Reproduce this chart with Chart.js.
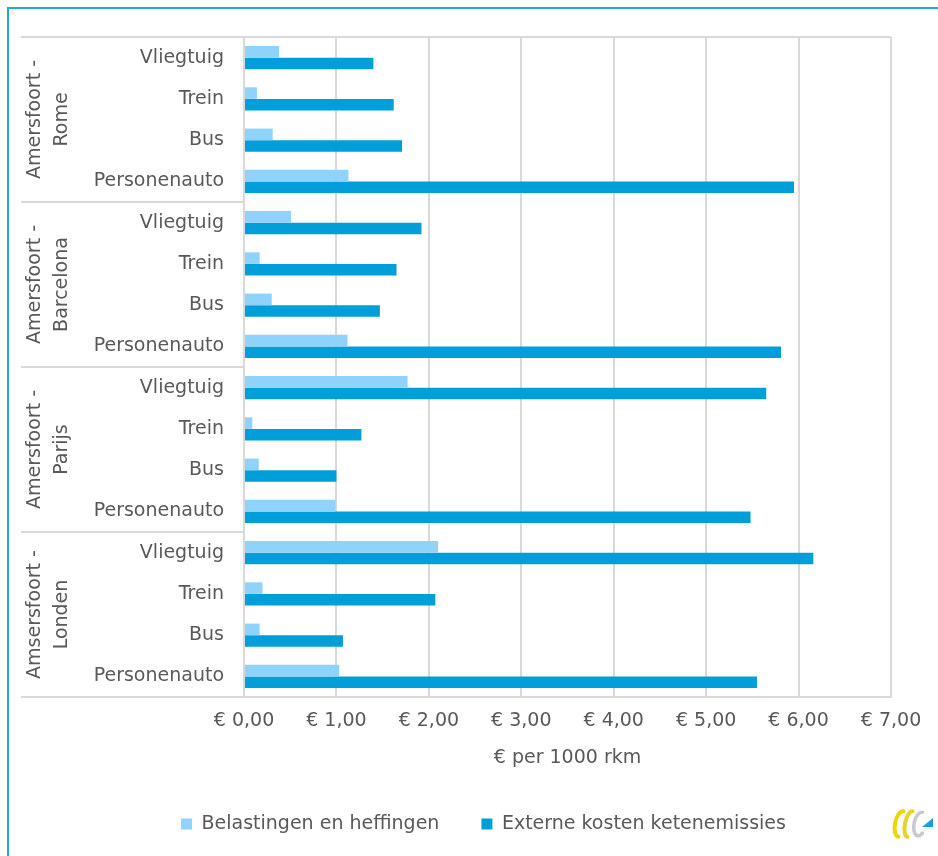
<!DOCTYPE html>
<html lang="nl">
<head>
    <meta charset="UTF-8">
    <title>Kosten per 1000 rkm</title>
    <script src="https://cdn.jsdelivr.net/npm/chart.js"></script>
    <style>
        body { margin: 0; background: #fff; }
        .wrap { position: relative; width: 938px; height: 856px; }
        .frame {
            position: absolute; left: 7px; top: 7px; right: 0; bottom: 0;
            border-top: 2px solid #2aa6df; border-left: 2px solid #2aa6df;
        }
        canvas { position: absolute; left: 0; top: 0; }
    </style>
</head>
<body>
<div class="wrap">
    <div class="frame"></div>
    <canvas id="chart" width="938" height="856"></canvas>
</div>

<script>
// Data
const routes = [
    ['Amersfoort -', 'Rome'],
    ['Amersfoort -', 'Barcelona'],
    ['Amersfoort -', 'Parijs'],
    ['Amsersfoort -', 'Londen']
];
const categories = [
    'Vliegtuig', 'Trein', 'Bus', 'Personenauto',
    'Vliegtuig', 'Trein', 'Bus', 'Personenauto',
    'Vliegtuig', 'Trein', 'Bus', 'Personenauto',
    'Vliegtuig', 'Trein', 'Bus', 'Personenauto'
];
const belastingen = [
    0.38, 0.14, 0.31, 1.13,
    0.51, 0.17, 0.30, 1.12,
    1.77, 0.09, 0.16, 0.99,
    2.10, 0.20, 0.17, 1.03
];
const externeKosten = [
    1.40, 1.62, 1.71, 5.95,
    1.92, 1.65, 1.47, 5.81,
    5.65, 1.27, 1.00, 5.48,
    6.16, 2.07, 1.07, 5.55
];
const xTickLabels = ['€ 0,00', '€ 1,00', '€ 2,00', '€ 3,00', '€ 4,00', '€ 5,00', '€ 6,00', '€ 7,00'];

const textColor = '#595959';
const lineColor = '#d9d9d9';
const font = { family: 'DejaVu Sans', size: 19 };

// groepslabels + scheidingslijnen links
const groupPlugin = {
    id: 'groups',
    afterLayout(chart) {
        // legenda iets naar rechts, zoals in het origineel
        chart.legend.left += 38;
        chart.legend.right += 38;
    },
    afterDraw(chart) {
        const ctx = chart.ctx;
        const area = chart.chartArea;
        const band = (area.bottom - area.top) / categories.length;
        ctx.save();
        ctx.strokeStyle = lineColor;
        ctx.lineWidth = 2;
        for (let g = 0; g <= routes.length; g++) {
            const y = area.top + g * 4 * band;
            const right = (g === 0 || g === routes.length) ? area.right : area.left;
            ctx.beginPath();
            ctx.moveTo(21, y);
            ctx.lineTo(right, y);
            ctx.stroke();
        }
        ctx.fillStyle = textColor;
        ctx.font = '19px "DejaVu Sans"';
        ctx.textAlign = 'center';
        ctx.textBaseline = 'middle';
        routes.forEach((lines, g) => {
            const yc = area.top + (g * 4 + 2) * band;
            lines.forEach((t, i) => {
                ctx.save();
                ctx.translate(35 + i * 27, yc);
                ctx.rotate(-Math.PI / 2);
                ctx.fillText(t, 0, 0);
                ctx.restore();
            });
        });

        // logo rechtsonder
        ctx.lineCap = 'round';
        ctx.lineWidth = 4;
        ctx.strokeStyle = '#f2d500';
        ctx.beginPath();
        ctx.ellipse(901, 824, 6, 13, 0.2, Math.PI * 0.5, Math.PI * 1.5);
        ctx.stroke();
        ctx.strokeStyle = '#e8d22e';
        ctx.beginPath();
        ctx.ellipse(910, 824, 5, 13, 0.2, Math.PI * 0.5, Math.PI * 1.5);
        ctx.stroke();
        ctx.strokeStyle = '#c9c9c9';
        ctx.lineWidth = 3.5;
        ctx.beginPath();
        ctx.ellipse(920, 824, 6, 12, 0.2, Math.PI * 1.5, Math.PI * 0.25, true);
        ctx.stroke();
        ctx.fillStyle = '#1a9ee0';
        ctx.beginPath();
        ctx.moveTo(922, 827);
        ctx.lineTo(933, 818);
        ctx.lineTo(933, 827);
        ctx.closePath();
        ctx.fill();
        ctx.restore();
    }
};

new Chart(document.getElementById('chart'), {
    type: 'bar',
    data: {
        labels: categories,
        datasets: [{
            label: 'Belastingen en heffingen',
            data: belastingen,
            backgroundColor: '#8fd3fc',
            categoryPercentage: 0.56,
            barPercentage: 1
        }, {
            label: 'Externe kosten ketenemissies',
            data: externeKosten,
            backgroundColor: '#009fda',
            categoryPercentage: 0.56,
            barPercentage: 1
        }]
    },
    options: {
        indexAxis: 'y',
        responsive: false,
        animation: false,
        devicePixelRatio: 1,
        layout: { padding: { left: 0, right: 47, top: 37, bottom: 12.5 } },
        plugins: {
            legend: {
                position: 'bottom',
                labels: {
                    color: textColor,
                    font: font,
                    boxWidth: 11,
                    boxHeight: 11,
                    padding: 42
                }
            },
            tooltip: { enabled: false }
        },
        scales: {
            x: {
                min: 0,
                max: 7,
                afterFit(scale) { scale.height = 75.5; },
                ticks: {
                    stepSize: 1,
                    color: textColor,
                    font: font,
                    padding: 13,
                    maxRotation: 0,
                    callback: (v, i) => xTickLabels[i]
                },
                grid: { color: lineColor, lineWidth: 2, drawTicks: false },
                border: { color: lineColor, width: 2 },
                title: {
                    display: true,
                    text: '€ per 1000 rkm',
                    color: textColor,
                    font: font,
                    padding: { top: 0, bottom: 3 }
                }
            },
            y: {
                afterFit(scale) { scale.width = 244; },
                ticks: {
                    color: textColor,
                    font: font,
                    padding: 20,
                    autoSkip: false
                },
                grid: { display: false, drawTicks: false },
                border: { color: lineColor, width: 2 }
            }
        }
    },
    plugins: [groupPlugin]
});
</script>
</body>
</html>
